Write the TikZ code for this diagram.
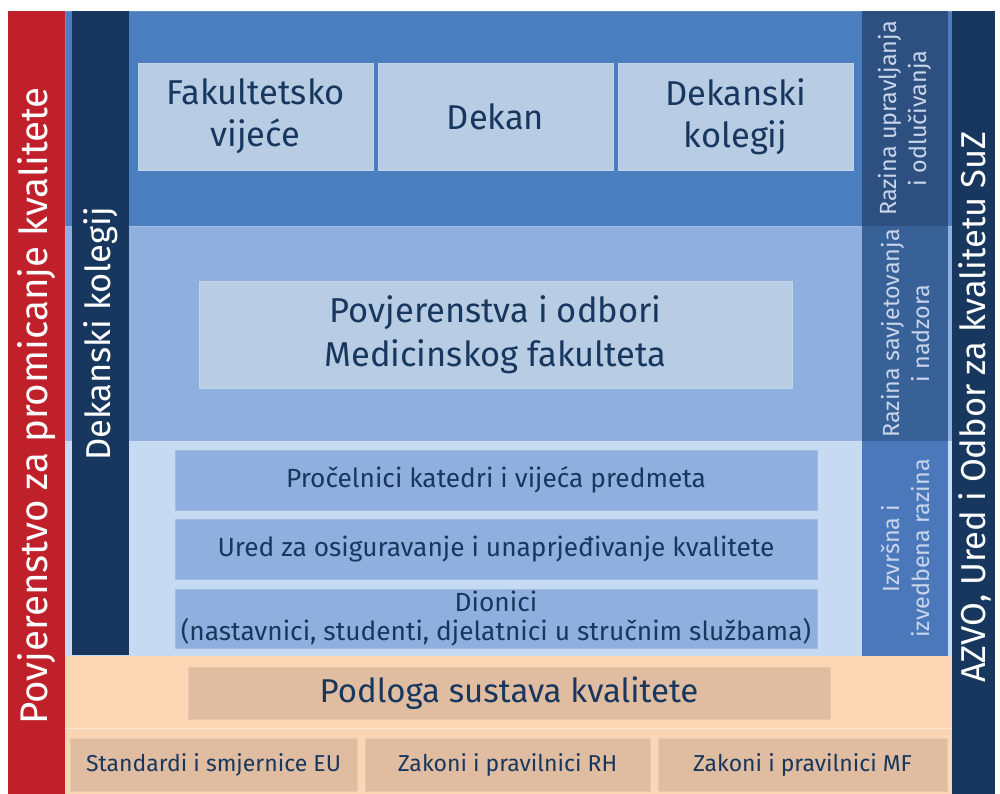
\documentclass[tikz,border=0pt]{standalone}
\usepackage{fontspec}
\setmainfont{Fira Sans}
\definecolor{cred}{HTML}{C0202A}
\definecolor{cnavy}{HTML}{17375E}
\definecolor{ctop}{HTML}{4A7EBF}
\definecolor{cmid}{HTML}{8FB0DE}
\definecolor{clow}{HTML}{C6DBF1}
\definecolor{lbltop}{HTML}{2E5080}
\definecolor{lblmid}{HTML}{386198}
\definecolor{lbllow}{HTML}{4A78BA}
\definecolor{cbox}{HTML}{B8CCE4}
\definecolor{cpeach}{HTML}{FCD5B5}
\definecolor{cpbox}{HTML}{E0BCA0}
\definecolor{ctext}{HTML}{17375E}
\definecolor{clbltext}{HTML}{C8D5EA}
\tikzset{
  region/.style={rectangle, inner sep=0pt, outer sep=0pt, draw=#1!85!white, line width=0.6pt, fill=#1},
  bar/.style={rectangle, inner sep=0pt, outer sep=0pt, fill=#1},
  topbox/.style={rectangle, inner sep=0pt, outer sep=0pt, fill=cbox, draw=cbox!85!white, line width=0.8pt,
     minimum width=235pt, minimum height=107pt, text=ctext, align=center, font=\fontsize{34.5}{42}\selectfont},
  lowbox/.style={rectangle, inner sep=0pt, outer sep=0pt, fill=cmid, draw=cmid!85!white, line width=0.8pt,
     minimum width=642pt, text=ctext, align=center, font=\fontsize{26.3}{29}\selectfont},
  pbox/.style={rectangle, inner sep=0pt, outer sep=0pt, fill=cpbox, draw=cpbox!80!white, line width=0.8pt,
     text=ctext, align=center},
  lbl/.style={rectangle, inner sep=0pt, outer sep=0pt, minimum width=86pt, minimum height=215pt, fill=#1},
  lbltext/.style={rotate=90, text=clbltext, align=center, font=\fontsize{23.4}{30}\selectfont},
  bartext/.style={rotate=90, text=white, align=center},
}
\begin{document}
\begin{tikzpicture}[x=1pt,y=-1pt]
\useasboundingbox (0,0) rectangle (1000,794);
\fill[white] (0,0) rectangle (1000,794);
% background regions
\node[region=ctop, minimum width=887pt, minimum height=215pt] (rtop) at (508.5,118.5) {};
\node[region=cmid, minimum width=887pt, minimum height=215pt] (rmid) at (508.5,333.5) {};
\node[region=clow, minimum width=887pt, minimum height=215pt] (rlow) at (508.5,548.5) {};
\node[bar=cpeach, minimum width=887pt, minimum height=72pt] (rpeach1) at (508.5,692) {};
\node[bar=cpeach, minimum width=887pt, minimum height=66pt] (rpeach2) at (508.5,761) {};
\draw[cpeach!60!white, line width=0.8pt] (rpeach2.north west) -- (rpeach2.north east);
% side bars
\node[bar=cred, minimum width=57pt, minimum height=783pt] (red) at (36.5,402.5) {};
\node[bar=cnavy, minimum width=57pt, minimum height=644pt] (dk) at (100.5,333) {};
\node[bar=cnavy, minimum width=43pt, minimum height=783pt] (azvo) at (973.5,402.5) {};
\node[bartext, font=\fontsize{38.5}{42}\selectfont] (redt) at (37,406) {Povjerenstvo za promicanje kvalitete};
\node[bartext, font=\fontsize{34.5}{38}\selectfont] (dkt) at (101,334) {Dekanski kolegij};
\node[bartext, font=\fontsize{34.5}{38}\selectfont] (azvot) at (975,407) {AZVO, Ured i Odbor za kvalitetu SuZ};
% level labels
\node[lbl=lbltop] (l1) at (905,118.5) {};
\node[lbl=lblmid] (l2) at (905,333.5) {};
\node[lbl=lbllow] (l3) at (905,548.5) {};
\node[lbltext] at (l1) {Razina upravljanja\\i odlučivanja};
\node[lbltext] at (l2) {Razina savjetovanja\\i nadzora};
\node[lbltext] at (l3) {Izvršna i\\izvedbena razina};
% top boxes
\node[topbox] (fv) at (255.5,116.5) {Fakultetsko\\vijeće};
\node[topbox] (dek) at (495.5,116.5) {Dekan};
\node[topbox] (dkol) at (735.5,116.5) {Dekanski\\kolegij};
% middle box
\node[topbox, minimum width=593pt, font=\fontsize{34.5}{44}\selectfont] (pov) at (495.5,334.5) {Povjerenstva i odbori\\Medicinskog fakulteta};
% lower boxes
\node[lowbox, minimum height=60pt] (proc) at (496,480) {Pročelnici katedri i vijeća predmeta};
\node[lowbox, minimum height=60pt] (ured) at (496,549) {Ured za osiguravanje i unaprjeđivanje kvalitete};
\node[lowbox, minimum height=59pt] (dion) at (496,618.5) {Dionici\\(nastavnici, studenti, djelatnici u stručnim službama)};
% base
\node[pbox, minimum width=642pt, minimum height=52pt, font=\fontsize{33}{36}\selectfont] (podl) at (509,693) {Podloga sustava kvalitete};
\node[pbox, minimum width=287pt, minimum height=53pt, font=\fontsize{23}{26}\selectfont] (std) at (213.5,764.5) {Standardi i smjernice EU};
\node[pbox, minimum width=285pt, minimum height=53pt, font=\fontsize{23}{26}\selectfont] (zrh) at (507.5,764.5) {Zakoni i pravilnici RH};
\node[pbox, minimum width=289pt, minimum height=53pt, font=\fontsize{23}{26}\selectfont] (zmf) at (802.5,764.5) {Zakoni i pravilnici MF};
\end{tikzpicture}
\end{document}
